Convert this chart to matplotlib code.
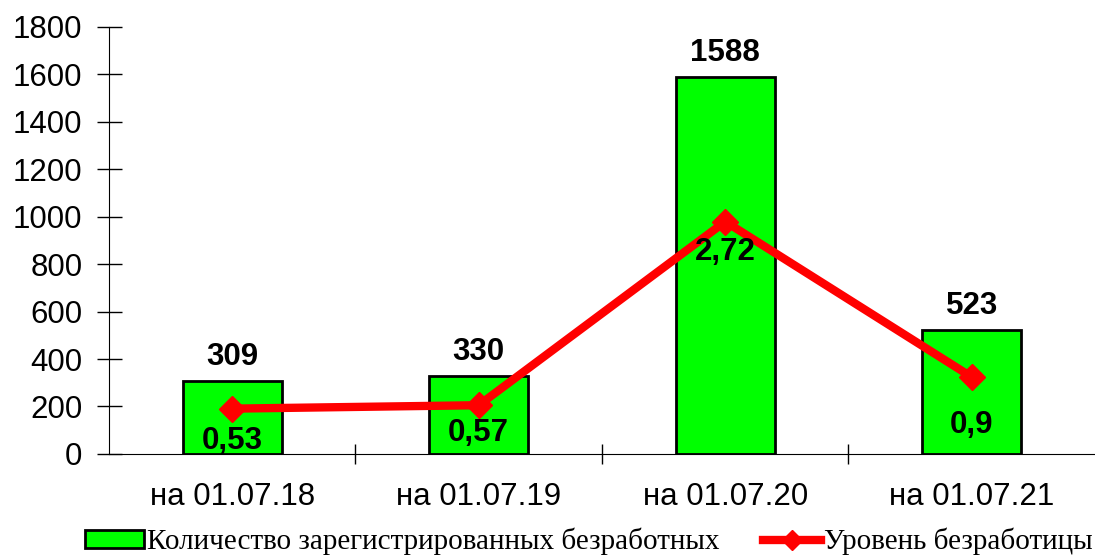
import numpy as np
import matplotlib
matplotlib.use('Agg')
import matplotlib.pyplot as plt
from matplotlib.lines import Line2D
from matplotlib.patches import Patch

categories = ['на 01.07.18', 'на 01.07.19', 'на 01.07.20', 'на 01.07.21']
unemployed = [309, 330, 1588, 523]
rate = [0.53, 0.57, 2.72, 0.9]
rate_labels = ['0,53', '0,57', '2,72', '0,9']

plt.rcParams['font.family'] = 'Liberation Sans'

fig = plt.figure(figsize=(10.95, 5.59), dpi=100)
ax = fig.add_axes([0.0995, 0.188, 0.9005, 0.764])
x = np.arange(len(categories))

ax.bar(x, unemployed, width=0.4, color='#00ff00', edgecolor='black', linewidth=2, zorder=2)
for xi, v in zip(x, unemployed):
    ax.text(xi, v + 38, str(v), ha='center', va='bottom', fontsize=22.5, fontweight='bold')

ax.set_xlim(-0.5, 3.5)
ax.set_ylim(0, 1800)
ax.set_yticks(np.arange(0, 1801, 200))
ax.tick_params(axis='y', direction='inout', length=18, width=1, labelsize=22.5, pad=10)
ax.set_xticks(x)
ax.set_xticklabels(categories, fontsize=22.5)
ax.tick_params(axis='x', length=0, pad=20)
ax.set_xticks(np.arange(0.5, 3.5, 1), minor=True)
ax.tick_params(axis='x', which='minor', direction='inout', length=14, width=1)
for s in ['top', 'right']:
    ax.spines[s].set_visible(False)
ax.spines['left'].set_position(('data', -0.5))

ax2 = ax.twinx()
ax2.set_ylim(0, 5)
ax2.axis('off')
ax2.plot(x, rate, color='red', linewidth=6, marker='D', markersize=13, zorder=3)
offsets = [-32, -28, -30, -48]
for xi, v, lab, off in zip(x, rate, rate_labels, offsets):
    ax2.annotate(lab, (xi, v), xytext=(0, off), textcoords='offset pixels',
                 ha='center', va='center', fontsize=22.5, fontweight='bold')

handles = [Patch(facecolor='#00ff00', edgecolor='black', linewidth=2),
           Line2D([0], [0], color='red', linewidth=6, marker='D', markersize=10)]
fig.legend(handles, ['Количество зарегистрированных безработных', 'Уровень безработицы'],
           loc='center left', bbox_to_anchor=(0.078, 0.031), ncol=2, frameon=False,
           prop={'family': 'Liberation Serif', 'size': 21}, handlelength=2.0,
           handleheight=0.6, handletextpad=0.1, columnspacing=1.5, borderaxespad=0,
           borderpad=0)

fig.savefig('out.png', dpi=100)
